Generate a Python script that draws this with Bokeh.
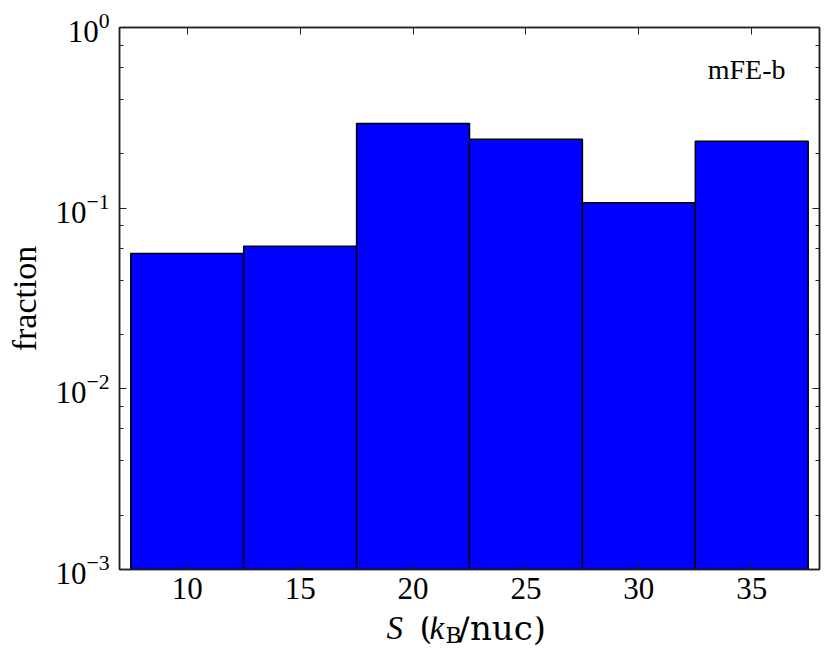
from bokeh.plotting import figure
from bokeh.layouts import column
from bokeh.models import (LinearAxis, LogAxis, FixedTicker, LogTicker, Label,
                          CustomJSTickFormatter, Range1d)
from bokeh.embed import file_html
from bokeh.resources import INLINE

# ---- data ----
bin_centers = [10, 15, 20, 25, 30, 35]
bin_width = 5
fractions = [0.0561, 0.0616, 0.294, 0.241, 0.107, 0.235]
x_ticks = [10, 15, 20, 25, 30, 35]
x_limits = (7, 38)
y_limits = (1e-3, 1.0)
panel_label = "mFE-b"
y_label = "fraction"

SERIF = "Liberation Serif"
MATH = "DejaVu Serif"
AX = "#222222"

p = figure(width=830, height=616, frame_width=700, frame_height=542,
           min_border_left=119, min_border_right=11,
           min_border_top=27, min_border_bottom=47,
           y_axis_type="log",
           x_range=Range1d(*x_limits), y_range=Range1d(*y_limits),
           output_backend="svg", toolbar_location=None)

p.xgrid.visible = False
p.ygrid.visible = False
p.outline_line_color = AX
p.outline_line_width = 1.5

p.vbar(x=bin_centers, width=bin_width, top=fractions, bottom=1e-6,
       fill_color="#0000ff", line_color="black", line_width=1.5)

def style(ax):
    ax.major_tick_in = 7
    ax.major_tick_out = 0
    ax.minor_tick_in = 4
    ax.minor_tick_out = 0
    ax.axis_line_color = AX
    ax.axis_line_width = 1.5
    ax.major_tick_line_color = AX
    ax.minor_tick_line_color = AX
    ax.major_label_text_font = SERIF
    ax.major_label_text_font_size = "31px"
    ax.major_label_text_color = "black"

xa = p.xaxis[0]
style(xa)
xa.ticker = FixedTicker(ticks=x_ticks)
xa.major_label_standoff = 8

ya = p.yaxis[0]
style(ya)
ya.ticker = LogTicker()
ya.major_label_standoff = 10
ya.axis_label = y_label
ya.axis_label_text_font = SERIF
ya.axis_label_text_font_size = "34px"
ya.axis_label_text_font_style = "normal"
ya.axis_label_text_color = "black"
ya.axis_label_standoff = 9

top = LinearAxis(ticker=FixedTicker(ticks=x_ticks),
                 formatter=CustomJSTickFormatter(code="return ''"))
style(top)
top.major_label_standoff = 0
top.major_label_text_font_size = "1px"
p.add_layout(top, "above")

right = LogAxis(ticker=LogTicker(), formatter=CustomJSTickFormatter(code="return ''"))
style(right)
right.major_label_standoff = 0
right.major_label_text_font_size = "1px"
p.add_layout(right, "right")

p.add_layout(Label(x=666, y=500, x_units="screen", y_units="screen",
                   text=panel_label, text_align="right", text_baseline="alphabetic",
                   text_font=SERIF, text_font_size="28px", text_color="black"))

# ---- x axis title strip: S (k_B/nuc) ----
xl = figure(width=830, height=48, min_border=0,
            x_range=Range1d(0, 830), y_range=Range1d(0, 48),
            output_backend="svg", toolbar_location=None)
xl.axis.visible = False
xl.xgrid.visible = False
xl.ygrid.visible = False
xl.outline_line_color = None

pieces = [
    (267, 37, "S", SERIF, "italic", "33px"),
    (300, 37, "(", MATH, "normal", "33px"),
    (310, 37, "k", SERIF, "italic", "33px"),
    (326, 29, "B", MATH, "normal", "22px"),
    (339, 37, "/nuc)", MATH, "normal", "34px"),
]
for x, y, t, f, st, sz in pieces:
    xl.add_layout(Label(x=x, y=y, x_units="screen", y_units="screen", text=t,
                        text_font=f, text_font_style=st, text_font_size=sz,
                        text_baseline="alphabetic", text_align="left",
                        text_color="black"))

layout = column(p, xl, spacing=0)
open("out.html", "w").write(file_html(layout, INLINE))
